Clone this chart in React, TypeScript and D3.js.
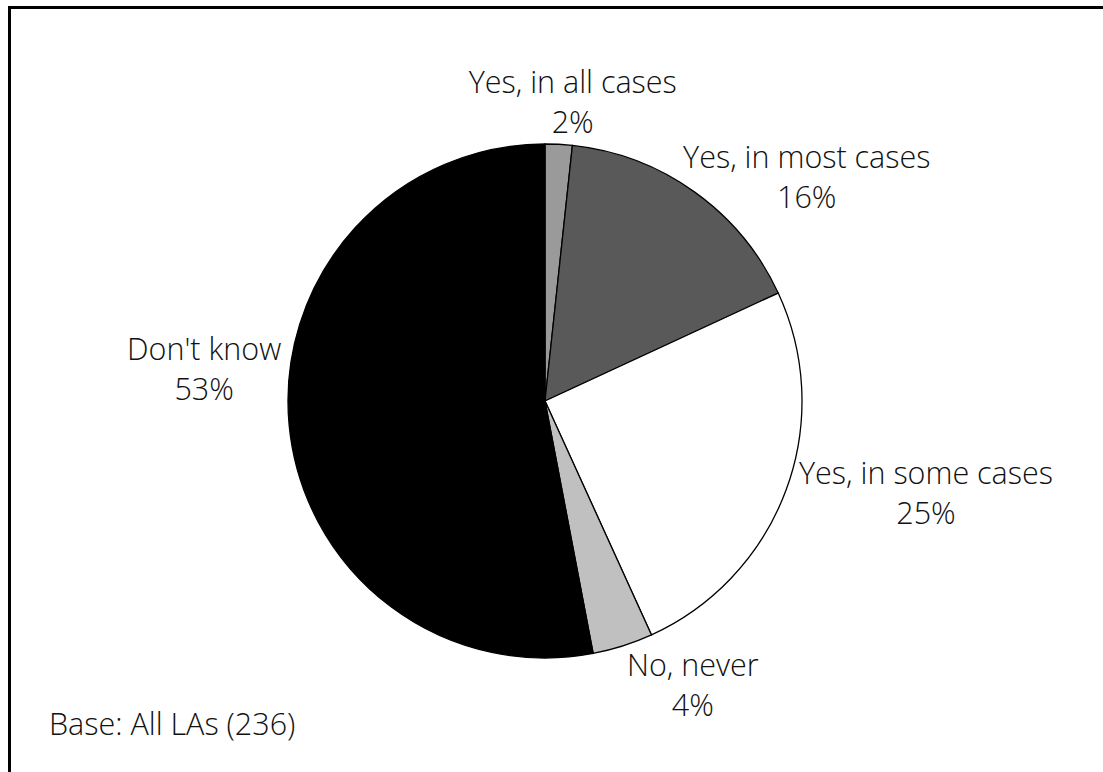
import React from "react";
import * as d3 from "d3";

const categories = ["Yes, in all cases", "Yes, in most cases", "Yes, in some cases", "No, never", "Don't know"];
const shares = [1.7, 16.4, 25.1, 3.8, 53.0];
const colors = ["#9a9a9a", "#595959", "#ffffff", "#c0c0c0", "#000000"];
const baseNote = "Base: All LAs (236)";

// label nudges relative to the outer arc point at mid angle (layout only)
const labelNudge: [number, number][] = [
  [14, -41],
  [112, -14],
  [140, 4],
  [70, 40],
  [-85, -55],
];

const W = 1103;
const H = 772;
const cx = 545;
const cy = 401;
const R = 257;
const FONT = "'Open Sans', 'Noto Sans', sans-serif";
const FS = 30.5;
const LINE = 40;

export default function App() {
  const pie = d3.pie<number>().sort(null).value((d) => d);
  const arcs = pie(shares);
  const arc = d3.arc<d3.PieArcDatum<number>>().innerRadius(0).outerRadius(R);
  return (
    <svg
      width={W}
      height={H}
      style={{ position: "absolute", left: 0, top: 0, background: "#fff" }}
    >
      <rect x={0} y={0} width={W} height={H} fill="#fff" />
      <path d={`M9.5,${H} V7.5 H${W}`} fill="none" stroke="#000" strokeWidth={3} />
      <g transform={`translate(${cx},${cy})`}>
        {arcs.map((a, i) => (
          <path key={i} d={arc(a) || ""} fill={colors[i]} stroke="#000" strokeWidth={1.3} />
        ))}
      </g>
      {arcs.map((a, i) => {
        const mid = (a.startAngle + a.endAngle) / 2;
        const x = cx + R * Math.sin(mid) + labelNudge[i][0];
        const y = cy - R * Math.cos(mid) + labelNudge[i][1];
        return (
          <text key={i} x={x} y={y} textAnchor="middle" fontFamily={FONT} fontWeight={300} fontSize={FS} fill="#111">
            <tspan x={x} dy={-LINE / 2 + 10}>{categories[i]}</tspan>
            <tspan x={x} dy={LINE}>{`${Math.round(shares[i])}%`}</tspan>
          </text>
        );
      })}
      <text x={49} y={735} fontFamily={FONT} fontWeight={300} fontSize={FS} fill="#111">
        {baseNote}
      </text>
    </svg>
  );
}
